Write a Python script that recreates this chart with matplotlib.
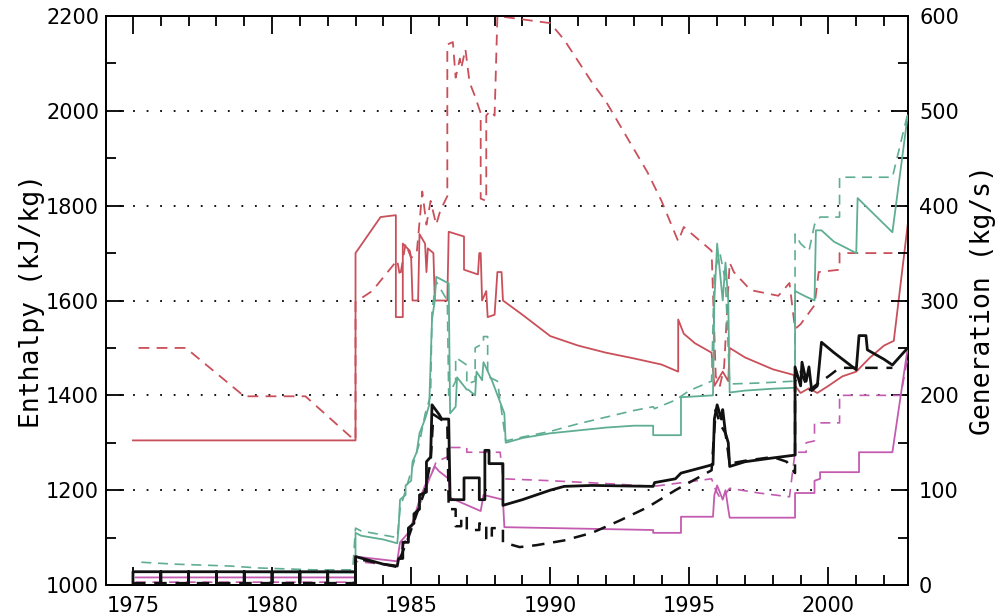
import matplotlib
matplotlib.use("Agg")
import matplotlib.pyplot as plt
from matplotlib.ticker import MultipleLocator

# ---------------- data ----------------
# Enthalpy (kJ/kg) – red, left axis
red_solid_t = [1975.0, 1983.0, 1983.0, 1983.9, 1984.45, 1984.45, 1984.7, 1984.7, 1984.95, 1985.0,
               1985.05, 1985.25, 1985.3, 1985.5, 1985.55, 1985.6, 1985.8, 1985.85, 1986.3, 1986.35,
               1986.9, 1986.9, 1987.4, 1987.45, 1987.5, 1987.55, 1987.7, 1987.75, 1988.0, 1988.1,
               1988.25, 1988.3, 1989.0, 1990.0, 1991.0, 1992.0, 1993.0, 1994.0, 1994.6, 1994.6,
               1994.8, 1995.2, 1995.8, 1995.9, 1996.2, 1996.4, 1996.45, 1997.0, 1998.0, 1998.75,
               1998.8, 1999.0, 1999.3, 1999.6, 2000.0, 2000.5, 2001.0, 2001.5, 2002.0, 2002.35, 2002.85]
red_solid_v = [1305, 1305, 1700, 1776, 1780, 1565, 1565, 1720, 1705, 1690,
               1600, 1600, 1740, 1720, 1660, 1710, 1700, 1600, 1600, 1745,
               1735, 1665, 1655, 1700, 1700, 1600, 1620, 1565, 1570, 1660,
               1660, 1600, 1570, 1525, 1505, 1490, 1478, 1465, 1450, 1560,
               1530, 1510, 1490, 1420, 1450, 1430, 1500, 1480, 1455, 1443,
               1420, 1405, 1415, 1405, 1420, 1440, 1450, 1480, 1505, 1515, 1760]

red_dash_t = [1975.2, 1976.9, 1979.0, 1981.2, 1982.95, 1983.0, 1983.0, 1983.6, 1984.5, 1984.6,
              1984.8, 1985.0, 1985.2, 1985.4, 1985.55, 1985.7, 1985.9, 1986.05, 1986.3, 1986.3,
              1986.5, 1986.6, 1986.75, 1986.8, 1986.95, 1987.1, 1987.3, 1987.5, 1987.5, 1987.7,
              1987.7, 1987.85, 1988.0, 1988.1, 1990.0, 1990.5, 1991.0, 1991.5, 1992.0, 1992.5,
              1993.0, 1993.5, 1994.0, 1994.6, 1994.8, 1995.3, 1995.8, 1995.95, 1996.1, 1996.25,
              1996.45, 1996.6, 1997.2, 1998.2, 1998.6, 1998.8, 1999.0, 1999.5, 1999.65, 2000.4,
              2000.4, 2002.3]
red_dash_v = [1500, 1500, 1398, 1398, 1306, 1306, 1597, 1620, 1685, 1650,
              1720, 1690, 1700, 1830, 1760, 1810, 1760, 1790, 1820, 2140,
              2145, 2070, 2110, 2090, 2130, 2060, 2030, 1995, 1815, 1810,
              1990, 2000, 1990, 2200, 2185, 2150, 2105, 2060, 2020, 1970,
              1920, 1870, 1810, 1725, 1755, 1730, 1705, 1440, 1420, 1460,
              1680, 1660, 1622, 1610, 1637, 1540, 1550, 1590, 1660, 1665,
              1700, 1700]

# Generation (kg/s) – right axis
green_solid_t = [1975.1, 1983.0, 1983.0, 1983.2, 1984.0, 1984.5, 1984.55, 1984.6, 1984.8, 1984.8,
                 1985.0, 1985.05, 1985.2, 1985.3, 1985.5, 1985.65, 1985.75, 1985.85, 1985.9, 1986.35,
                 1986.4, 1986.6, 1986.65, 1987.0, 1987.05, 1987.3, 1987.35, 1987.55, 1987.6, 1987.9,
                 1988.35, 1988.4, 1989.0, 1990.0, 1991.0, 1992.0, 1993.0, 1993.7, 1993.7, 1994.7,
                 1994.7, 1995.85, 1995.9, 1996.0, 1996.2, 1996.3, 1996.4, 1996.45, 1997.0, 1998.0,
                 1998.8, 1998.8, 1999.2, 1999.5, 1999.55, 1999.75, 2000.2, 2001.0, 2001.05, 2001.5,
                 2002.3, 2002.85]
green_solid_v = [14, 13, 55, 52, 48, 44, 60, 90, 95, 105,
                 110, 130, 140, 160, 175, 190, 280, 300, 325, 318,
                 181, 188, 219, 206, 206, 200, 225, 216, 235, 216,
                 181, 150, 155, 160, 163, 166, 168, 168, 158, 158,
                 198, 200, 300, 360, 300, 340, 300, 203, 205, 207,
                 208, 310, 304, 300, 374, 374, 362, 350, 408, 395,
                 372, 495]

green_dash_t = [1975.3, 1976.5, 1977.5, 1978.5, 1979.5, 1980.5, 1981.5, 1982.9, 1983.0, 1983.2,
                1984.5, 1984.6, 1984.9, 1985.1, 1985.3, 1985.5, 1985.7, 1985.75, 1985.9, 1986.3,
                1986.35, 1986.6, 1986.6, 1987.0, 1987.0, 1987.3, 1987.3, 1987.6, 1987.6, 1987.75,
                1987.75, 1988.1, 1988.4, 1989.0, 1990.0, 1991.0, 1992.0, 1993.0, 1993.7, 1993.75,
                1994.5, 1995.0, 1995.8, 1995.9, 1996.1, 1996.3, 1996.45, 1997.5, 1998.8, 1998.8,
                1999.0, 1999.3, 1999.5, 1999.7, 2000.4, 2000.4, 2002.3, 2002.85]
green_dash_v = [24, 22, 21, 20, 18, 17, 16, 16, 60, 57,
                50, 80, 110, 130, 150, 180, 200, 290, 320, 300,
                200, 215, 240, 232, 212, 215, 250, 255, 262, 262,
                220, 215, 152, 156, 162, 170, 177, 184, 188, 186,
                195, 205, 215, 330, 350, 320, 212, 213, 215, 370,
                360, 352, 380, 388, 388, 430, 430, 497]

magenta_solid_t = [1975.1, 1983.0, 1983.0, 1984.5, 1984.6, 1984.9, 1985.1, 1985.3, 1985.5, 1985.7,
                   1985.85, 1986.0, 1986.35, 1986.4, 1987.5, 1987.6, 1988.3, 1988.35, 1993.7, 1993.7,
                   1994.7, 1994.7, 1995.85, 1995.9, 1996.0, 1996.2, 1996.3, 1996.4, 1996.45, 1998.8,
                   1998.8, 1999.5, 1999.5, 1999.7, 1999.7, 2001.1, 2001.1, 2002.3, 2002.85]
magenta_solid_v = [8, 8, 30, 25, 45, 55, 70, 90, 105, 115,
                   125, 120, 112, 92, 78, 95, 90, 61, 58, 55,
                   55, 72, 72, 95, 105, 90, 100, 80, 71, 71,
                   97, 97, 110, 112, 119, 119, 140, 140, 250]

magenta_dash_t = [1975.1, 1983.0, 1983.0, 1984.5, 1984.6, 1985.0, 1985.5, 1985.9, 1986.3, 1986.4,
                  1987.0, 1987.0, 1988.2, 1988.3, 1990.0, 1992.0, 1993.7, 1995.8, 1995.95, 1996.1,
                  1996.3, 1996.45, 1997.5, 1998.6, 1998.8, 1999.2, 1999.2, 1999.5, 1999.5, 2000.4,
                  2000.4, 2002.6, 2002.85]
magenta_dash_v = [3, 3, 25, 20, 35, 60, 100, 130, 135, 145,
                  145, 140, 140, 112, 110, 107, 104, 112, 100, 92,
                  96, 102, 97, 93, 140, 140, 150, 152, 171, 171,
                  200, 200, 240]

black_solid_t = [1975.0, 1975.0, 1976.0, 1976.0, 1976.0, 1977.0, 1977.0, 1977.0, 1978.0, 1978.0,
                 1978.0, 1979.0, 1979.0, 1979.0, 1980.0, 1980.0, 1980.0, 1981.0, 1981.0, 1981.0,
                 1982.0, 1982.0, 1982.0, 1983.0, 1983.0, 1983.0, 1984.0, 1984.5, 1984.55, 1984.7,
                 1984.7, 1984.9, 1984.9, 1985.1, 1985.1, 1985.3, 1985.3, 1985.55, 1985.55, 1985.7,
                 1985.75, 1986.0, 1986.1, 1986.35, 1986.4, 1986.9, 1986.9, 1987.45, 1987.45, 1987.65,
                 1987.65, 1987.8, 1987.8, 1988.3, 1988.3, 1989.0, 1990.0, 1990.5, 1991.5, 1993.7,
                 1993.75, 1994.5, 1994.7, 1995.85, 1995.9, 1996.0, 1996.15, 1996.2, 1996.3, 1996.4,
                 1996.45, 1997.0, 1998.0, 1998.8, 1998.8, 1999.0, 1999.05, 1999.2, 1999.3, 1999.4,
                 1999.6, 1999.75, 2000.2, 2001.0, 2001.1, 2001.35, 2001.4, 2002.0, 2002.3, 2002.85]
black_solid_v = [2, 14, 14, 2, 14, 14, 2, 14, 14, 2,
                 14, 14, 2, 14, 14, 2, 14, 14, 2, 14,
                 14, 2, 14, 14, 2, 30, 22, 20, 28, 28,
                 45, 45, 60, 65, 75, 80, 95, 98, 130, 135,
                 190, 180, 175, 175, 90, 90, 113, 113, 90, 90,
                 142, 142, 128, 128, 84, 90, 100, 104, 105, 104,
                 108, 112, 118, 127, 175, 190, 175, 185, 160, 150,
                 125, 130, 134, 137, 230, 210, 235, 215, 230, 205,
                 210, 256, 245, 227, 263, 263, 248, 238, 232, 250]

black_dash_t = [1975.0, 1983.0, 1983.0, 1984.5, 1984.6, 1984.9, 1985.2, 1985.5, 1985.7, 1985.8,
                1986.3, 1986.35, 1986.6, 1986.6, 1986.8, 1986.8, 1987.0, 1987.0, 1987.45, 1987.45,
                1987.7, 1987.7, 1987.9, 1987.9, 1988.3, 1988.3, 1988.9, 1989.5, 1990.5, 1991.5,
                1992.5, 1993.5, 1994.5, 1995.8, 1995.95, 1996.1, 1996.3, 1996.45, 1997.0, 1998.0,
                1998.5, 1998.8, 1998.8, 1999.0, 1999.3, 1999.6, 2000.0, 2000.4, 2002.3]
black_dash_v = [2, 2, 28, 19, 28, 50, 75, 100, 130, 180,
                170, 80, 80, 62, 62, 72, 72, 58, 58, 65,
                65, 48, 48, 60, 60, 45, 40, 42, 47, 55,
                68, 82, 100, 121, 185, 170, 160, 128, 131, 135,
                130, 118, 215, 225, 205, 212, 220, 229, 229]

x_ticks = [1975, 1980, 1985, 1990, 1995, 2000]
enth_ticks = [1000, 1200, 1400, 1600, 1800, 2000, 2200]
gen_ticks = [0, 100, 200, 300, 400, 500, 600]

# ---------------- styling ----------------
RED = "#c9505a"
GREEN = "#5fae92"
MAGENTA = "#c35cb0"
BLACK = "#111111"

fig = plt.figure(figsize=(9.98, 6.16), dpi=100)
ax = fig.add_axes([0.1062, 0.0503, 0.8036, 0.9237])
ax2 = ax.twinx()

ax.set_xlim(1974.03, 2002.86)
ax.set_ylim(1000, 2200)
ax2.set_ylim(0, 600)

# grid (dotted, only on inner major levels)
for g in enth_ticks[1:-1]:
    ax.axhline(g, color="black", lw=1.3, ls=(0, (1, 6.5)), zorder=1)

ax.plot(red_solid_t, red_solid_v, color=RED, lw=1.3, zorder=3)
ax.plot(red_dash_t, red_dash_v, color=RED, lw=1.3, ls=(0, (6, 4)), zorder=3)

ax2.plot(green_solid_t, green_solid_v, color=GREEN, lw=1.3, zorder=3)
ax2.plot(green_dash_t, green_dash_v, color=GREEN, lw=1.2, ls=(0, (6, 4)), zorder=3)
ax2.plot(magenta_solid_t, magenta_solid_v, color=MAGENTA, lw=1.3, zorder=3)
ax2.plot(magenta_dash_t, magenta_dash_v, color=MAGENTA, lw=1.2, ls=(0, (6, 4)), zorder=3)
ax2.plot(black_solid_t, black_solid_v, color=BLACK, lw=2.0, zorder=4)
ax2.plot(black_dash_t, black_dash_v, color=BLACK, lw=1.8, ls=(0, (5, 3.5)), zorder=4)

# ticks
tick_font = dict(family="DejaVu Sans", size=15)
ax.set_xticks(x_ticks)
ax.set_xticklabels([str(t) for t in x_ticks], **tick_font)
ax.xaxis.set_minor_locator(MultipleLocator(1))
ax.set_yticks(enth_ticks)
ax.set_yticklabels([str(t) for t in enth_ticks], **tick_font)
ax.yaxis.set_minor_locator(MultipleLocator(100))
ax2.set_yticks(gen_ticks)
ax2.set_yticklabels([str(t) for t in gen_ticks], **tick_font)
ax2.yaxis.set_minor_locator(MultipleLocator(50))

ax.tick_params(axis="x", which="both", direction="in", top=True, bottom=True, width=1.3, pad=8)
ax.tick_params(axis="x", which="major", length=13)
ax.tick_params(axis="x", which="minor", length=7)
ax.tick_params(axis="y", which="both", direction="in", left=True, right=False, width=1.3, pad=5)
ax.tick_params(axis="y", which="major", length=13)
ax.tick_params(axis="y", which="minor", length=7)
ax2.tick_params(axis="y", which="both", direction="in", width=1.3, pad=8)
ax2.tick_params(axis="y", which="major", length=12)
ax2.tick_params(axis="y", which="minor", length=7)

for a in (ax, ax2):
    for s in a.spines.values():
        s.set_linewidth(1.3)
        s.set_color("black")

label_font = dict(family="DejaVu Sans Mono", size=19)
ax.set_ylabel("Enthalpy (kJ/kg)", **label_font)
ax2.set_ylabel("Generation (kg/s)", **label_font)
ax.yaxis.set_label_coords(-0.076, 0.5)
ax2.yaxis.set_label_coords(1.077, 0.5)

fig.savefig("out.png", dpi=100)
